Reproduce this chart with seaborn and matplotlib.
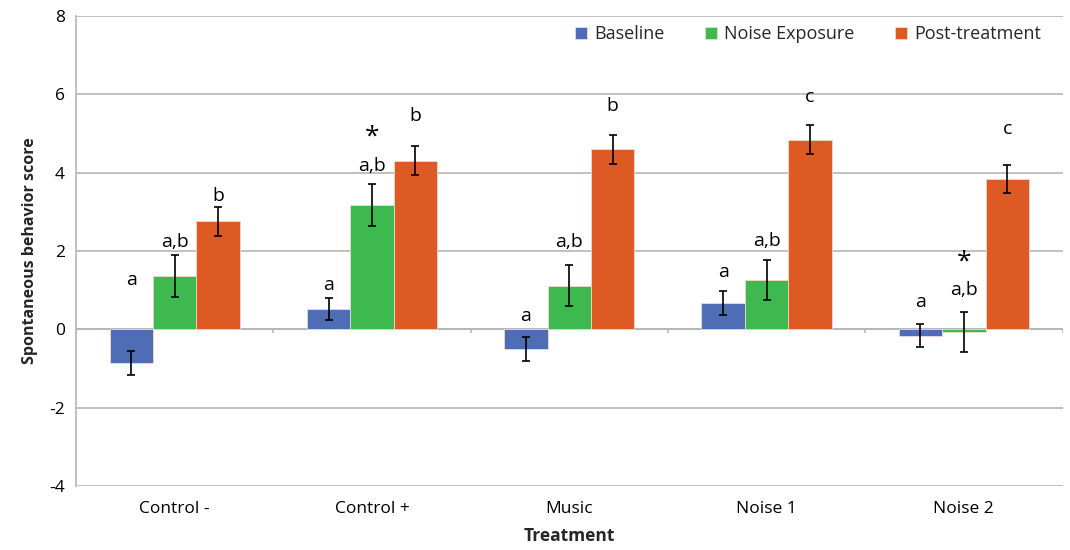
import numpy as np
import pandas as pd
import seaborn as sns
import matplotlib.pyplot as plt

# values
treatments = ["Control -", "Control +", "Music", "Noise 1", "Noise 2"]
phases = ["Baseline", "Noise Exposure", "Post-treatment"]

baseline = [-0.86, 0.51, -0.49, 0.68, -0.16]
noise_exposure = [1.37, 3.17, 1.12, 1.26, -0.06]
post_treatment = [2.76, 4.31, 4.60, 4.84, 3.83]

baseline_err = [0.30, 0.28, 0.31, 0.31, 0.30]
noise_err = [0.53, 0.53, 0.53, 0.51, 0.51]
post_err = [0.37, 0.38, 0.37, 0.37, 0.36]

# significance letters and their heights
baseline_lbl = ["a", "a", "a", "a", "a"]
noise_lbl = ["a,b", "a,b", "a,b", "a,b", "a,b"]
post_lbl = ["b", "b", "b", "c", "c"]
baseline_lbl_y = [1.26, 1.13, 0.34, 1.47, 0.70]
noise_lbl_y = [2.24, 4.16, 2.24, 2.26, 1.00]
post_lbl_y = [3.40, 5.44, 5.70, 5.93, 5.11]
star_at = ["Control +", "Noise 2"]
star_y = [4.90, 1.72]

colors = ["#4F6DB5", "#3EB94F", "#DD5A24"]

df = pd.DataFrame({
    "Treatment": treatments * 3,
    "Phase": np.repeat(phases, len(treatments)),
    "Score": baseline + noise_exposure + post_treatment,
})

sns.set_style("white")
plt.rcParams["font.family"] = ["Open Sans", "DejaVu Sans"]
plt.rcParams["axes.unicode_minus"] = False

fig, ax = plt.subplots(figsize=(10.7, 5.5), dpi=100)
fig.subplots_adjust(left=0.071, right=0.993, top=0.971, bottom=0.116)

sns.barplot(data=df, x="Treatment", y="Score", hue="Phase", order=treatments,
            hue_order=phases, palette=colors, width=0.66, errorbar=None,
            saturation=1, linewidth=0.6, edgecolor="#f2d9cc", ax=ax, zorder=3)

errs = [baseline_err, noise_err, post_err]
vals_all = [baseline, noise_exposure, post_treatment]
labels = [baseline_lbl, noise_lbl, post_lbl]
label_ys = [baseline_lbl_y, noise_lbl_y, post_lbl_y]
bar_groups = list(ax.containers)
for k, cont in enumerate(bar_groups):
    xs = [b.get_x() + b.get_width() / 2 for b in cont]
    ax.errorbar(xs, vals_all[k], yerr=errs[k], fmt="none", ecolor="black",
                elinewidth=1.2, capsize=3, capthick=1.2, zorder=4)
    for x, txt, ty in zip(xs, labels[k], label_ys[k]):
        ax.text(x, ty, txt, ha="center", va="center", fontsize=14, color="black")
    if k == 1:
        for name, sy in zip(star_at, star_y):
            i = treatments.index(name)
            ax.text(xs[i], sy, "*", ha="center", va="center", fontsize=19, color="black")

ax.set_ylim(-4, 8)
ax.set_xlim(-0.5, len(treatments) - 0.5)
ax.set_yticks(range(-4, 9, 2))
ax.yaxis.grid(True, color="#b5b5b5", linewidth=1.2, zorder=0)
ax.axhline(0, color="#b5b5b5", linewidth=1.2, zorder=2)
ax.vlines(np.arange(len(treatments) + 1) - 0.5, -0.1, 0, color="#b5b5b5", linewidth=1.2)

for s in ["top", "right", "bottom"]:
    ax.spines[s].set_visible(False)
ax.spines["left"].set_color("#b5b5b5")
ax.spines["left"].set_linewidth(1.2)
ax.tick_params(axis="both", length=0, labelsize=12.5, colors="black")
ax.tick_params(axis="x", pad=11)
ax.tick_params(axis="y", pad=8)

ax.set_xlabel("Treatment", fontsize=12.5, fontweight="bold", labelpad=7)
ax.set_ylabel("Spontaneous behavior score", fontsize=11.5, fontweight="bold", labelpad=8)

ax.legend(loc="upper right", ncol=3, frameon=False, fontsize=13,
          handlelength=0.7, handleheight=0.7, handletextpad=0.4,
          columnspacing=2.2, bbox_to_anchor=(0.995, 1.015))

fig.savefig("out.png", dpi=100)
